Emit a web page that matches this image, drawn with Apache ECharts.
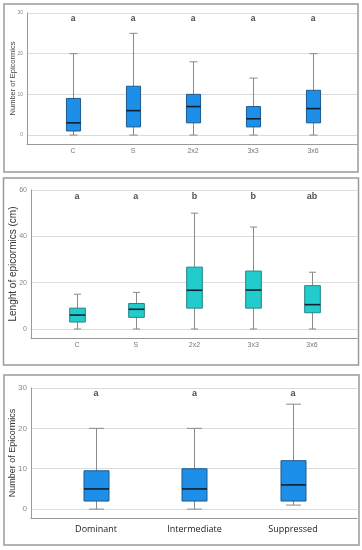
<!DOCTYPE html>
<html><head><meta charset="utf-8">
<script src="https://cdn.jsdelivr.net/npm/echarts@6/dist/echarts.min.js"></script>
<style>html,body{margin:0;padding:0;background:#fff}#c{width:362px;height:550px}</style>
</head><body><div id="c"></div>
<script>
// Panel 1: Number of epicormics by treatment
var cats1 = ['C', 'S', '2x2', '3x3', '3x6'];
// [low, Q1, median, Q3, high]
var box1 = [[0, 1, 3, 9, 20], [0, 2, 6, 12, 25], [0, 3, 7, 10, 18], [0, 2, 4, 7, 14], [0, 3, 6.5, 11, 20]];
var letters1 = ['a', 'a', 'a', 'a', 'a'];
var ticks1 = [0, 10, 20, 30];

// Panel 2: Length of epicormics by treatment
var cats2 = ['C', 'S', '2x2', '3x3', '3x6'];
var box2 = [[0, 3, 6, 9, 15], [0, 5, 8.5, 11, 15.8], [0, 9, 16.7, 26.7, 50], [0, 9, 16.8, 25, 44], [0, 7, 10.5, 18.7, 24.5]];
var letters2 = ['a', 'a', 'b', 'b', 'ab'];
var ticks2 = [0, 20, 40, 60];

// Panel 3: Number of epicormics by crown class
var cats3 = ['Dominant', 'Intermediate', 'Suppressed'];
var box3 = [[0, 2, 5, 9.5, 20], [0, 2, 5, 10, 20], [1, 2, 6, 12, 26]];
var letters3 = ['a', 'a', 'a'];
var ticks3 = [0, 10, 20, 30];

function withIndex(arr) { return arr.map(function (d, i) { return [i].concat(d); }); }

function makeRender(boxFrac, capFrac, fill, stroke) {
  return function (params, api) {
    var x = api.value(0);
    var lo = api.coord([x, api.value(1)]);
    var q1 = api.coord([x, api.value(2)]);
    var md = api.coord([x, api.value(3)]);
    var q3 = api.coord([x, api.value(4)]);
    var hi = api.coord([x, api.value(5)]);
    var unit = api.size([1, 0])[0];
    var bw = unit * boxFrac, cw = unit * capFrac;
    var cx = Math.round(lo[0]) + 0.5;
    var ws = { stroke: '#8a8a8a', lineWidth: 1 };
    return {
      type: 'group', children: [
        { type: 'line', shape: { x1: cx, y1: hi[1], x2: cx, y2: q3[1] }, style: ws },
        { type: 'line', shape: { x1: cx, y1: q1[1], x2: cx, y2: lo[1] }, style: ws },
        { type: 'line', shape: { x1: cx - cw / 2, y1: hi[1], x2: cx + cw / 2, y2: hi[1] }, style: ws },
        { type: 'line', shape: { x1: cx - cw / 2, y1: lo[1], x2: cx + cw / 2, y2: lo[1] }, style: ws },
        { type: 'rect', shape: { x: cx - bw / 2, y: q3[1], width: bw, height: q1[1] - q3[1] }, style: { fill: fill, stroke: stroke, lineWidth: 1 } },
        { type: 'line', shape: { x1: cx - bw / 2, y1: md[1], x2: cx + bw / 2, y2: md[1] }, style: { stroke: '#10202e', lineWidth: 1.6 } }
      ]
    };
  };
}

var FONT = 'Liberation Sans';
function yAxisCfg(gi, min, max, ticks, name, nameSize, nameGap, nameColor, labelSize) {
  return {
    gridIndex: gi, type: 'value', min: min, max: max,
    name: name, nameLocation: 'middle', nameGap: nameGap, nameMoveOverlap: false,
    nameTextStyle: { fontSize: nameSize, color: nameColor, fontFamily: FONT },
    axisLine: { show: true, onZero: false, lineStyle: { color: '#999', width: 1 } },
    axisTick: { show: false, customValues: ticks },
    axisLabel: { customValues: ticks, fontSize: labelSize, color: '#888', margin: 4, fontFamily: FONT, hideOverlap: false },
    splitLine: { show: true, lineStyle: { color: '#dcdcdc', width: 1 } }
  };
}
function xAxisCfg(gi, min, max, cats, size, color, margin, family) {
  return {
    gridIndex: gi, type: 'value', min: min, max: max,
    axisLine: { show: true, onZero: false, lineStyle: { color: '#999', width: 1 } },
    axisTick: { show: false, customValues: cats.map(function (c, i) { return i; }) },
    axisLabel: {
      customValues: cats.map(function (c, i) { return i; }),
      formatter: function (v) { return cats[Math.round(v)]; },
      fontSize: size, color: color, margin: margin, fontFamily: family
    },
    splitLine: { show: false }
  };
}
function letterSeries(gi, letters, yv, size, weight) {
  return {
    type: 'scatter', xAxisIndex: gi, yAxisIndex: gi, symbolSize: 0, silent: true,
    data: letters.map(function (l, i) { return [i, yv]; }),
    label: {
      show: true, position: 'inside', fontSize: size, fontWeight: weight, color: '#222', fontFamily: FONT,
      formatter: function (p) { return letters[p.dataIndex]; }
    }
  };
}

var chart = echarts.init(document.getElementById('c'), null, { renderer: 'canvas' });
chart.setOption({
  animation: false,
  backgroundColor: '#fff',
  graphic: [
    { type: 'rect', shape: { x: 4, y: 4, width: 354, height: 168 }, style: { fill: 'none', stroke: '#9a9a9a', lineWidth: 1.5 } },
    { type: 'rect', shape: { x: 3.5, y: 178, width: 355, height: 187 }, style: { fill: 'none', stroke: '#9a9a9a', lineWidth: 1.5 } },
    { type: 'rect', shape: { x: 4, y: 375, width: 355, height: 170 }, style: { fill: 'none', stroke: '#9a9a9a', lineWidth: 1.5 } }
  ],
  grid: [
    { left: 27, top: 13, width: 330, height: 131, containLabel: false, outerBoundsMode: 'none' },
    { left: 31, top: 190, width: 326, height: 148, containLabel: false, outerBoundsMode: 'none' },
    { left: 31, top: 388, width: 326, height: 130, containLabel: false, outerBoundsMode: 'none' }
  ],
  xAxis: [
    xAxisCfg(0, -0.767, 4.733, cats1, 7, '#777', 4, FONT),
    xAxisCfg(1, -0.783, 4.766, cats2, 7, '#777', 4, FONT),
    xAxisCfg(2, -0.66, 2.65, cats3, 9, '#222', 7, 'Open Sans')
  ],
  yAxis: [
    yAxisCfg(0, -2.2, 30, ticks1, 'Number of Epicormics', 7.5, 10.5, '#444', 5),
    yAxisCfg(1, -3.9, 60, ticks2, 'Lenght of epicormics (cm)', 10, 13, '#333', 7),
    yAxisCfg(2, -2.2, 30, ticks3, 'Number of Epicormics', 9, 13.5, '#333', 8)
  ],
  series: [
    { type: 'custom', xAxisIndex: 0, yAxisIndex: 0, data: withIndex(box1), renderItem: makeRender(0.235, 0.135, '#1e8fe8', '#1f5a8c'), encode: { x: 0, y: [1, 2, 3, 4, 5] } },
    { type: 'custom', xAxisIndex: 1, yAxisIndex: 1, data: withIndex(box2), renderItem: makeRender(0.267, 0.12, '#22cccc', '#2a8484'), encode: { x: 0, y: [1, 2, 3, 4, 5] } },
    { type: 'custom', xAxisIndex: 2, yAxisIndex: 2, data: withIndex(box3), renderItem: makeRender(0.254, 0.152, '#1e8fe8', '#1f5a8c'), encode: { x: 0, y: [1, 2, 3, 4, 5] } },
    letterSeries(0, letters1, 28.5, 8.5, 'bold'),
    letterSeries(1, letters2, 57, 9, 'bold'),
    letterSeries(2, letters3, 28.7, 9, 'bold')
  ]
});
</script></body></html>
